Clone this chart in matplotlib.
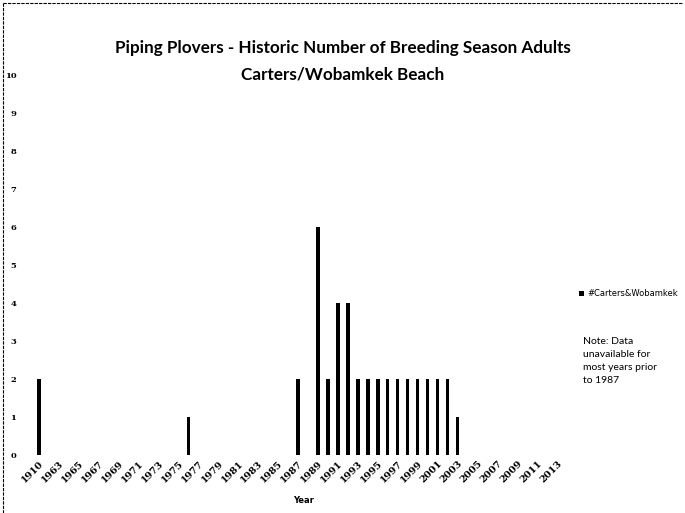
import matplotlib
matplotlib.use("Agg")
import matplotlib.pyplot as plt
import numpy as np

years = ["1910"] + [str(y) for y in range(1962, 2015)]
values = {"1910": 2, "1976": 1, "1987": 2, "1989": 6, "1990": 2, "1991": 4, "1992": 4,
          "1993": 2, "1994": 2, "1995": 2, "1996": 2, "1997": 2, "1998": 2, "1999": 2,
          "2000": 2, "2001": 2, "2002": 2, "2003": 1}
adults = [values.get(y, 0) for y in years]
yticks = list(range(0, 11))

fig = plt.figure(figsize=(6.85, 5.13), dpi=100)
ax = fig.add_axes([0.05, 0.113, 0.785, 0.74])
x = np.arange(len(years))
ax.bar(x, adults, width=0.35, color="black", label="#Carters&Wobamkek")
ax.set_xlim(-0.5, len(years) - 0.5)
ax.set_ylim(0, 10)
ax.set_yticks(yticks)
ax.set_yticklabels([str(t) for t in yticks], fontsize=6, fontweight="bold", family="DejaVu Serif")
ax.set_xticks(x[::2])
ax.set_xticklabels(years[::2], rotation=45, fontsize=7, fontweight="bold", family="DejaVu Serif",
                   ha="right", rotation_mode="anchor")
ax.tick_params(length=0, pad=3)
ax.tick_params(axis="y", pad=13)
for s in ax.spines.values():
    s.set_visible(False)
ax.set_xlabel("Year", fontsize=6, fontweight="bold", labelpad=8)
fig.text(0.5, 0.84, "Piping Plovers - Historic Number of Breeding Season Adults\nCarters/Wobamkek Beach",
         ha="center", va="bottom", fontsize=12.3, fontweight="bold", family="Lato", linespacing=1.8)
fig.legend(loc="center left", bbox_to_anchor=(0.835, 0.427), frameon=False, fontsize=6,
           handlelength=0.6, handleheight=0.6, handletextpad=0.3)
fig.text(0.851, 0.343, "Note: Data\nunavailable for\nmost years prior\nto 1987", fontsize=7.5,
         family="Lato", va="top", linespacing=1.55)
# page border (dashed)
fig.add_artist(plt.Line2D([0.005, 0.005], [0.0, 0.995], transform=fig.transFigure, color="black",
                          lw=0.8, ls=(0, (3, 1))))
fig.add_artist(plt.Line2D([0.005, 0.995], [0.995, 0.995], transform=fig.transFigure, color="black",
                          lw=0.8, ls=(0, (3, 1))))
fig.savefig("out.png", dpi=100)
